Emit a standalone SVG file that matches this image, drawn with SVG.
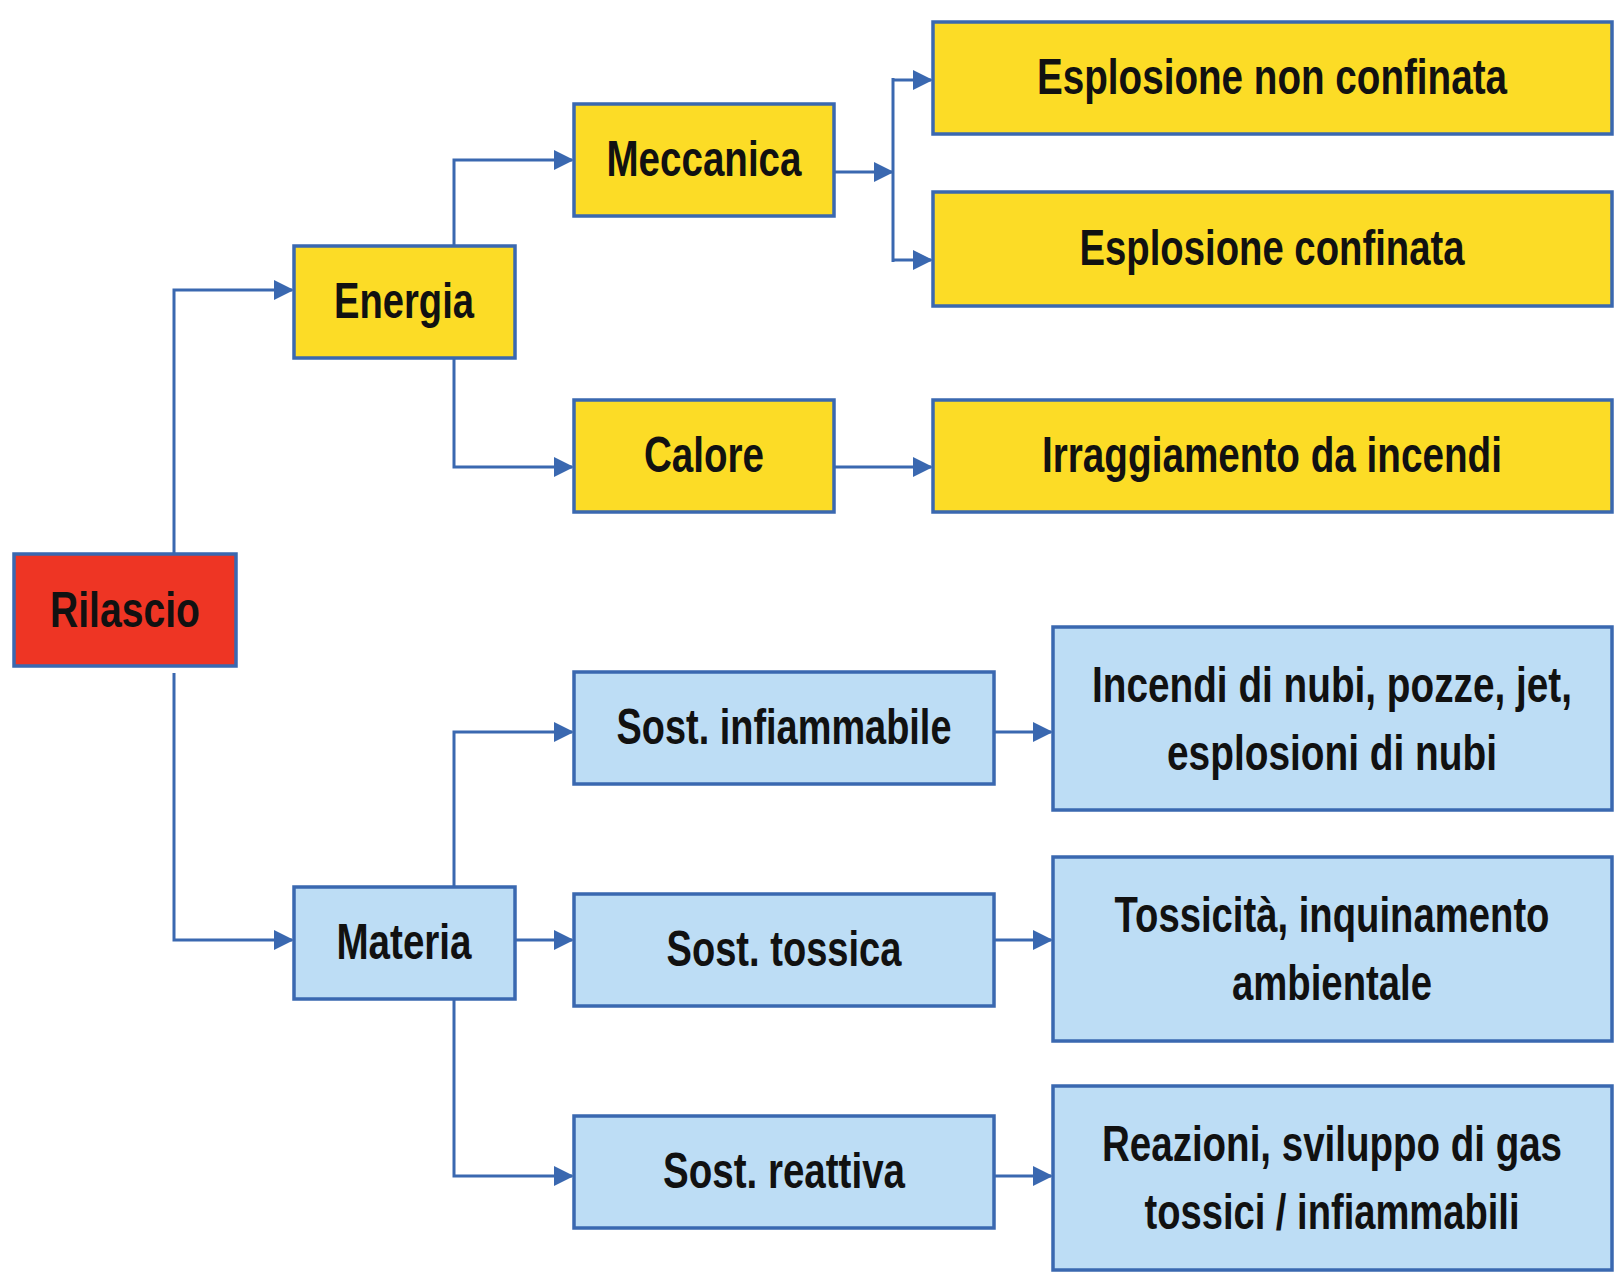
<svg xmlns="http://www.w3.org/2000/svg" width="1623" height="1282" viewBox="0 0 1623 1282">
<style>
.b{stroke:#3A68B0;stroke-width:3.5}
.y{fill:#FCDC26}.l{fill:#BDDDF5}.r{fill:#EE3524}
text{font-family:"Liberation Sans Narrow","Liberation Sans",sans-serif;font-weight:bold;font-size:50px;fill:#111;text-anchor:middle}
</style>
<defs>
<marker id="a2" viewBox="0 0 10 10" refX="9" refY="5" markerWidth="20" markerHeight="20" markerUnits="userSpaceOnUse" orient="auto"><path d="M0,0L10,5L0,10z" fill="#3A68B0"/></marker></defs>
<g id="connectors" fill="none" stroke="#3A68B0" stroke-width="3" marker-end="url(#a2)">
<path d="M174,554V290H292"/>
<path d="M174,673V940H292"/>
<path d="M454,246V160H572"/>
<path d="M454,358V467H572"/>
<path d="M834,172H892"/>
<path d="M893,80H931"/>
<path d="M893,260H931"/>
<path d="M893,78V262" marker-end="none"/>
<path d="M834,467H931"/>
<path d="M454,887V732H572"/>
<path d="M515,940H572"/>
<path d="M454,999V1176H572"/>
<path d="M994,732H1051"/>
<path d="M994,940H1051"/>
<path d="M994,1176H1051"/>
</g>
<g id="rilascio"><rect class="b r" x="14" y="554" width="222" height="112"/><text x="125" y="627" textLength="150" lengthAdjust="spacingAndGlyphs">Rilascio</text></g>
<g id="energia"><rect class="b y" x="294" y="246" width="221" height="112"/><text x="404" y="318" textLength="140" lengthAdjust="spacingAndGlyphs">Energia</text></g>
<g id="meccanica"><rect class="b y" x="574" y="104" width="260" height="112"/><text x="704" y="176" textLength="195" lengthAdjust="spacingAndGlyphs">Meccanica</text></g>
<g id="calore"><rect class="b y" x="574" y="400" width="260" height="112"/><text x="704" y="472" textLength="120" lengthAdjust="spacingAndGlyphs">Calore</text></g>
<g id="esp-non"><rect class="b y" x="933" y="22" width="679" height="112"/><text x="1272" y="94" textLength="470" lengthAdjust="spacingAndGlyphs">Esplosione non confinata</text></g>
<g id="esp-conf"><rect class="b y" x="933" y="192" width="679" height="114"/><text x="1272" y="265" textLength="385" lengthAdjust="spacingAndGlyphs">Esplosione confinata</text></g>
<g id="irragg"><rect class="b y" x="933" y="400" width="679" height="112"/><text x="1272" y="472" textLength="460" lengthAdjust="spacingAndGlyphs">Irraggiamento da incendi</text></g>
<g id="materia"><rect class="b l" x="294" y="887" width="221" height="112"/><text x="404" y="959" textLength="135" lengthAdjust="spacingAndGlyphs">Materia</text></g>
<g id="infiamm"><rect class="b l" x="574" y="672" width="420" height="112"/><text x="784" y="744" textLength="335" lengthAdjust="spacingAndGlyphs">Sost. infiammabile</text></g>
<g id="tossica"><rect class="b l" x="574" y="894" width="420" height="112"/><text x="784" y="966" textLength="235" lengthAdjust="spacingAndGlyphs">Sost. tossica</text></g>
<g id="reattiva"><rect class="b l" x="574" y="1116" width="420" height="112"/><text x="784" y="1188" textLength="242" lengthAdjust="spacingAndGlyphs">Sost. reattiva</text></g>
<g id="incendi"><rect class="b l" x="1053" y="627" width="559" height="183"/><text x="1332" y="702" textLength="480" lengthAdjust="spacingAndGlyphs">Incendi di nubi, pozze, jet,</text><text x="1332" y="770" textLength="330" lengthAdjust="spacingAndGlyphs">esplosioni di nubi</text></g>
<g id="tossicita"><rect class="b l" x="1053" y="857" width="559" height="184"/><text x="1332" y="932" textLength="435" lengthAdjust="spacingAndGlyphs">Tossicità, inquinamento</text><text x="1332" y="1000" textLength="200" lengthAdjust="spacingAndGlyphs">ambientale</text></g>
<g id="reazioni"><rect class="b l" x="1053" y="1086" width="559" height="184"/><text x="1332" y="1161" textLength="460" lengthAdjust="spacingAndGlyphs">Reazioni, sviluppo di gas</text><text x="1332" y="1229" textLength="375" lengthAdjust="spacingAndGlyphs">tossici / infiammabili</text></g>
</svg>
